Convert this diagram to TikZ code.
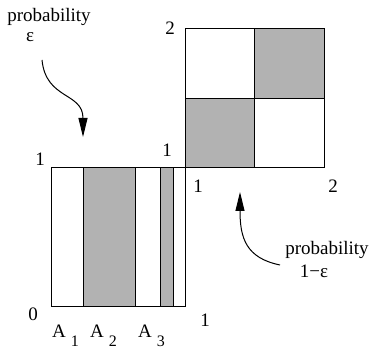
\documentclass[tikz,border=0pt]{standalone}
\usepackage{fontspec}
\setmainfont{Liberation Serif}
\usetikzlibrary{arrows.meta}
\newcommand{\sublab}[2]{#1\hspace{5pt}\raisebox{-9pt}{\fontsize{16}{17}\selectfont #2}}
\tikzset{
  cellbox/.style ={draw, line width=1pt},
  graycell/.style={draw, line width=1pt, fill=black!30},
  lbl/.style     ={inner sep=0pt, font=\fontsize{19}{21}\selectfont},
  prob/.style    ={-{Triangle[length=19pt, width=9pt]}, line width=1pt},
}
\begin{document}
\begin{tikzpicture}[x=1pt, y=-1pt]
  \useasboundingbox (0,0) rectangle (372,352);
  % lower square with stripes
  \draw[cellbox] (51,168) rectangle (185,307);
  \draw[graycell] (83,168) rectangle (135,307);
  \draw[graycell] (160,168) rectangle (173,307);
  % upper square
  \draw[cellbox] (185,29) rectangle (324,168);
  \draw[graycell] (185,99) rectangle (254,168);
  \draw[graycell] (254,29) rectangle (324,99);
  % axis labels
  \node[lbl] (ytop) at (40,159) {1};
  \node[lbl] (ybot) at (33,314) {0};
  \node[lbl] (xbot) at (205,320) {1};
  \node[lbl] (ymid) at (167,150) {1};
  \node[lbl] (yup) at (170,28) {2};
  \node[lbl] (xmid) at (198,186) {1};
  \node[lbl] (xup) at (333,186) {2};
  \node[lbl, anchor=west] (a1) at (52,336) {\sublab{A}{1}};
  \node[lbl, anchor=west] (a2) at (90,336) {\sublab{A}{2}};
  \node[lbl, anchor=west] (a3) at (138,336) {\sublab{A}{3}};
  % probability labels
  \node[lbl] (pa) at (49,17) {probability};
  \node[lbl] (eps) at (30,37) {ε};
  \node[lbl] (pb) at (327,250) {probability};
  \node[lbl] (oneeps) at (314,271) {1−ε};
  \coordinate (epsstart) at (42,60);
  \coordinate (epstip) at (83,137);
  \coordinate (onestart) at (280,265);
  \coordinate (onetip) at (240,192);
  \draw[prob] (epsstart) .. controls (46,100) and (83,92) .. (epstip);
  \draw[prob] (onestart) .. controls (246,258) and (240,238) .. (onetip);
\end{tikzpicture}
\end{document}
